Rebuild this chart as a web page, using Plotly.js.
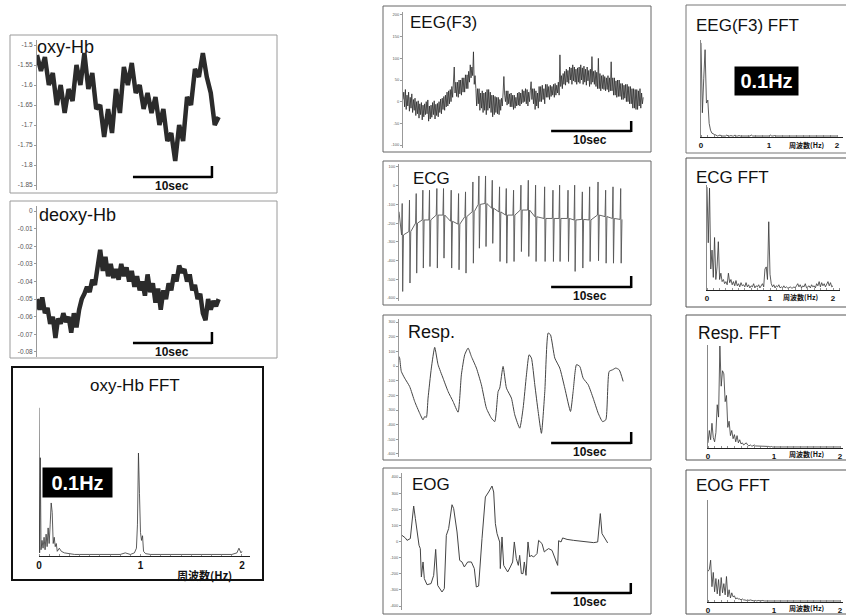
<!DOCTYPE html>
<html><head><meta charset="utf-8">
<script src="https://cdn.plot.ly/plotly-3.0.1.min.js"></script>
<style>html,body{margin:0;padding:0;background:#fff}#chart{width:846px;height:615px}</style>
</head><body><div id="chart"></div>
<script>
// ---------------- DATA ----------------
// oxy-Hb, samples every 0.5 s
const oxyHb = [-1.525,-1.565,-1.53,-1.60,-1.57,-1.65,-1.60,-1.67,-1.61,-1.64,-1.55,-1.60,-1.52,-1.61,-1.57,-1.66,-1.65,-1.73,-1.66,-1.72,-1.61,-1.67,-1.555,-1.60,-1.545,-1.62,-1.60,-1.66,-1.62,-1.67,-1.63,-1.70,-1.66,-1.74,-1.72,-1.79,-1.70,-1.74,-1.63,-1.65,-1.56,-1.58,-1.52,-1.58,-1.62,-1.70,-1.68];
const oxyTicks = [-1.5,-1.55,-1.6,-1.65,-1.7,-1.75,-1.8,-1.85];
const oxyTickText = ['-1.5','-1.55','-1.6','-1.65','-1.7','-1.75','-1.8','-1.85'];
// deoxy-Hb, samples every 1/3 s
const deoxyHb = [-0.050,-0.056,-0.049,-0.058,-0.055,-0.064,-0.060,-0.072,-0.061,-0.064,
 -0.058,-0.063,-0.060,-0.069,-0.058,-0.066,-0.056,-0.050,-0.047,-0.043,
 -0.046,-0.039,-0.042,-0.033,-0.022,-0.034,-0.026,-0.037,-0.030,-0.038,
 -0.033,-0.039,-0.030,-0.037,-0.032,-0.040,-0.034,-0.043,-0.037,-0.045,
 -0.040,-0.048,-0.036,-0.046,-0.041,-0.052,-0.044,-0.056,-0.045,-0.050,
 -0.041,-0.045,-0.036,-0.040,-0.031,-0.035,-0.033,-0.040,-0.036,-0.045,
 -0.042,-0.050,-0.047,-0.058,-0.062,-0.050,-0.056,-0.051,-0.054,-0.050];
const deoxyTicks = [0,-0.01,-0.02,-0.03,-0.04,-0.05,-0.06,-0.07,-0.08];
const deoxyTickText = ['0','-0.01','-0.02','-0.03','-0.04','-0.05','-0.06','-0.07','-0.08'];
// oxy-Hb FFT
const oxyFftF = [0,0.006,0.013,0.02,0.03,0.04,0.05,0.06,0.07,0.08,0.09,0.10,0.11,0.12,0.13,0.14,0.15,0.16,0.17,0.18,0.20,0.22,0.25,0.30,0.35,0.40,0.50,0.60,0.70,0.80,0.85,0.90,0.94,0.96,0.97,0.98,0.99,1.00,1.01,1.02,1.03,1.05,1.10,1.20,1.30,1.40,1.50,1.60,1.70,1.80,1.90,1.95,1.97,1.99,2.00];
const oxyFftP = [95,2,63,4,10,5,12,4,14,6,18,8,20,34,28,8,12,6,8,3,5,3,2,1.5,1,1,1,1,1,1,2,1,2,5,20,66,40,15,10,13,3,1.5,1,1,1,1,1,1,1,1,1,2,5,2,3];
// EEG(F3), samples every 0.1 s
const eeg = [
 5,22,-12,28,-18,15,-10,22,-22,10,-15,18,-25,5,-20,8,-32,0,-28,2,
 -38,-5,-30,-2,-42,-8,-35,-5,-30,0,-28,4,-45,-10,-40,-8,-36,-2,-30,2,
 -40,-6,-32,-4,-35,0,-25,6,-28,8,-18,12,-20,15,-12,22,-10,25,-5,28,
 0,35,10,40,80,20,45,12,45,10,50,18,50,15,55,22,55,22,62,30,
 62,30,70,45,85,55,80,60,115,40,60,30,-10,30,-5,30,-20,20,-15,25,
 -25,20,-20,22,-30,28,-20,28,-15,22,-25,15,-35,15,-30,12,-25,10,-28,10,
 -30,5,-20,8,-10,20,58,15,0,25,-8,25,-5,18,-12,20,-12,15,-18,15,
 -15,10,-10,20,-8,22,-10,20,-5,28,-2,25,0,30,-5,28,-10,22,0,25,
 46,5,30,-5,30,-18,25,-10,20,-15,35,0,35,0,38,5,30,-5,40,10,
 40,10,35,5,38,12,35,15,40,10,42,15,38,20,45,15,108,35,60,30,
 65,40,70,38,75,45,72,42,80,50,78,40,85,48,80,45,75,40,78,45,
 80,42,85,50,78,40,82,45,75,38,80,48,72,35,75,40,104,45,70,40,
 72,35,68,30,100,30,65,25,60,30,62,28,58,25,55,28,60,22,55,25,
 92,25,55,15,55,15,48,10,50,12,50,12,42,5,42,5,38,8,40,0,
 40,0,35,-5,35,-5,30,-15,30,-15,28,-18,28,-18,25,-10,30,-15,20,-5,
 10];
const eegTicks = [200,150,100,50,0,-50,-100];
// ECG beats: time (s), R peak, S trough, baseline
const ecgStartV = -139;
const ecgBeatT = [0.42,1.33,2.17,3.0,3.83,4.75,5.58,6.54,7.46,8.33,9.25,10.0,10.83,11.67,12.58,13.42,14.33,15.25,16.17,17.08,18.21,19.25,20.08,21.13,21.96,22.92,23.83,24.88,25.83,26.75,27.71];
const ecgR = [-95,-77,-42,-24,-24,-15,-15,-24,-42,-33,20,52,52,29,-6,-15,-24,3,29,3,-6,-24,3,-24,3,-33,-6,20,-24,-6,-15];
const ecgS = [-565,-520,-467,-440,-432,-440,-387,-440,-449,-467,-414,-334,-325,-308,-405,-414,-405,-352,-378,-405,-405,-405,-405,-405,-458,-440,-405,-401,-414,-414,-414];
const ecgBase = [-263,-245,-200,-183,-183,-157,-157,-190,-205,-165,-139,-100,-95,-120,-140,-157,-157,-130,-130,-166,-175,-175,-175,-175,-183,-180,-183,-157,-165,-175,-180];
const ecgTicks = [100,0,-100,-200,-300,-400,-500,-600];
// Respiration
const respT = [0,0.08,0.29,0.71,1.33,1.96,2.58,3.0,3.21,3.42,3.63,4.04,4.46,4.88,5.5,6.13,6.75,7.38,7.79,8.21,8.63,9.04,9.67,10.29,10.92,11.54,11.96,12.38,12.58,13.0,13.42,14.04,14.46,15.08,15.5,15.92,16.25,16.54,16.96,17.38,17.79,18.21,18.63,18.92,19.46,20.08,20.71,21.42,21.75,22.17,22.58,23.0,23.63,24.25,24.88,25.42,25.83,26.25,26.67,27.08,27.5,28.0];
const respV = [65,54,-37,-83,-140,-242,-322,-367,-345,-350,-219,-14,127,9,-83,-174,-242,-315,-60,77,122,65,-14,-128,-288,-356,-379,-174,-151,-3,-151,-219,-333,-424,-288,-60,77,54,-128,-310,-459,-174,225,213,54,-14,-151,-310,-174,9,-3,-83,-128,-219,-322,-379,-367,-37,-26,-14,-26,-105];
const respTicks = [300,200,100,0,-100,-200,-300,-400,-500,-600];
// EOG
const eogT = [0,0.42,0.63,1.04,1.25,1.46,1.67,1.96,2.13,2.29,2.42,2.63,2.79,3.13,3.63,3.96,4.21,4.46,4.79,5.0,5.29,5.54,5.83,6.25,6.46,6.88,7.21,7.5,7.79,8.21,8.67,9.04,9.29,9.58,10.0,10.42,10.83,11.25,11.46,11.67,11.88,12.21,12.29,12.5,12.71,13.0,13.21,13.54,13.83,14.04,14.29,14.54,14.71,14.92,15.13,15.29,15.5,15.75,15.96,16.13,16.46,16.88,17.08,17.5,17.79,18.0,18.33,18.75,18.96,19.17,19.46,19.58,19.88,20.08,20.63,21.46,22.29,23.13,23.96,24.46,24.79,25.0,25.42,25.71];
const eogV = [38,22,7,18,121,220,142,49,-24,-44,-220,-127,-230,-268,-261,-210,-49,-272,-303,-313,-292,38,80,228,204,59,-117,-127,-158,-127,-127,-168,-282,-276,18,276,307,344,307,111,49,-3,-168,28,-148,-168,-189,-158,-127,-3,-106,-148,-86,-199,-199,-127,-210,-3,-96,-86,-96,-75,7,-13,-65,-55,-44,-55,-86,-106,-148,5,-3,22,13,7,3,-3,-7,-3,173,49,13,-9];
const eogTicks = [400,300,200,100,0,-100,-200,-300,-400];
// Right-column spectra, every 0.02 Hz from 0 to 2 Hz
const eegFft = [97,25,60,90,35,38,14,7,4,3,2.5,
 2,1,1.5,2,1,1,1.5,1,2,1, 1,1.5,1,1,2,1,1,1.5,1,1, 1,1,1.5,1,1,1,2,1,1,1, 1.5,1,1,1,1,1.5,1,1,1,1,
 2,1,1,1.5,1,1,1,1,1,1.5, 1,1,1,1,1,1,1.5,1,1,1, 1,1,1,1.5,1,1,1,1,1,1, 1,1.5,1,1,1,1,1,1,1.5,1, 1,1,1,1,1,1,1,1.5,1,1];
const ecgFft = [98,45,97,20,38,12,50,10,22,46,10,16,8,10,6,8,5,16,7,10,
 5,8,4,9,4,6,3,7,4,5,3,7,3,5,2,4,3,6,2,4,
 3,5,2,4,6,3,20,22,10,65,15,6,3,5,2,4,3,5,2,3,
 2,4,2,3,2,2,3,2,2,3,2,4,6,3,5,2,4,3,6,2,
 3,4,2,5,3,4,2,6,4,8,3,7,4,6,3,5,8,4,7,3,4];
const respFft = [5,17,8,24,10,6,15,42,30,99,60,75,72,45,51,20,26,12,17,9,13,6,12,5,8,4,5,3,4,5,
 3,2,3,2,2,3,2,2,2,1.5, 2,1.5,2,1.5,1.5,2,1.5,1,1.5,1, 1,1.5,1,1,1,1.5,1,1,1,1, 1,1,1,1,1.5,1,1,1,1,1,
 1,1,1,1,1,1,1,1,1,1, 1,1,1,1,1,1,1,1,1,1, 1,1,1,1,1,1,1,1,1,1, 1];
const eogFft = [30,32,41,15,29,10,23,8,22,6,24,9,18,7,25,5,12,4,9,5,6,3,4,3,3,
 2,3,2,2,1.5,2,1.5,2,1.5,1.5, 1,1.5,1,1.5,1,1,1.5,1,1,1, 1,1,1,1,1,1,1.5,1,1,1, 1,1,1,1,1,1,1,1,1,1,
 1,1,1,1,1,1,1,1,1,1, 1,1,1,1,1,1,1,1,1,1, 1,1,1,1,1,1,1,1,1,1, 1,1,1,1,1,1];
const fftTicks = [0,1,2];
const fftTickText = ['0','1','2'];
const scaleBarLen = 10; // seconds

// ---------------- LAYOUT HELPERS ----------------
const W = 846, H = 615;
const FONT = 'Liberation Sans, Arial, Helvetica, sans-serif';
const CJK = 'Noto Sans CJK JP, sans-serif';
const X = p => p / W, Y = p => 1 - p / H;
const xd = (a, b) => [a / W, b / W];
const yd = (t, b) => [1 - b / H, 1 - t / H];

// build ECG polyline from the beats
const ecgT = [0], ecgV = [ecgStartV];
ecgBeatT.forEach((t, i) => {
  ecgT.push(t - 0.1, t - 0.02, t + 0.04, t + 0.14);
  ecgV.push(ecgBase[i], ecgR[i], ecgS[i], ecgBase[i]);
});

const traces = [
  {y: oxyHb, x0: 0, dx: 0.5, xaxis: 'x', yaxis: 'y', line: {color: '#2b2b2b', width: 4.5}},
  {y: deoxyHb, x0: 0, dx: 1/3, xaxis: 'x2', yaxis: 'y2', line: {color: '#2b2b2b', width: 4.5}},
  {x: oxyFftF, y: oxyFftP, xaxis: 'x3', yaxis: 'y3', line: {color: '#333', width: 0.8}},
  {y: eeg, x0: 0, dx: 0.1, xaxis: 'x4', yaxis: 'y4', line: {color: '#2a2a2a', width: 0.8}},
  {x: ecgT, y: ecgV, xaxis: 'x5', yaxis: 'y5', line: {color: '#555', width: 0.9}},
  {x: respT, y: respV, xaxis: 'x6', yaxis: 'y6', line: {color: '#444', width: 1, shape: 'spline', smoothing: 0.5}},
  {x: eogT, y: eogV, xaxis: 'x7', yaxis: 'y7', line: {color: '#444', width: 1}},
  {y: eegFft, x0: 0, dx: 0.02, xaxis: 'x8', yaxis: 'y8', line: {color: '#333', width: 0.8}},
  {y: ecgFft, x0: 0, dx: 0.02, xaxis: 'x9', yaxis: 'y9', line: {color: '#333', width: 0.8}},
  {y: respFft, x0: 0, dx: 0.02, xaxis: 'x10', yaxis: 'y10', line: {color: '#333', width: 0.8}},
  {y: eogFft, x0: 0, dx: 0.02, xaxis: 'x11', yaxis: 'y11', line: {color: '#333', width: 0.8}}
].map(t => Object.assign({type: 'scatter', mode: 'lines', hoverinfo: 'skip', showlegend: false}, t));

const layout = {
  width: W, height: H, margin: {l: 0, r: 0, t: 0, b: 0},
  paper_bgcolor: '#fff', plot_bgcolor: 'rgba(0,0,0,0)', showlegend: false,
  font: {family: FONT, color: '#111'}, shapes: [], annotations: []
};
const key = (p, n) => p + (n === 1 ? '' : n);

function timePanel(n, xdom, xr, ydom, yr, tv, tt, fs) {
  layout[key('xaxis', n)] = {domain: xdom, range: xr, visible: false, anchor: key('y', n), fixedrange: true};
  layout[key('yaxis', n)] = {domain: ydom, range: yr, anchor: key('x', n), showline: true, linecolor: '#999', linewidth: 1,
    ticks: 'outside', ticklen: 2, tickwidth: 1, tickcolor: '#999', tickmode: 'array', tickvals: tv, ticktext: tt,
    tickfont: {size: fs, color: '#555', family: FONT}, showgrid: false, zeroline: false, fixedrange: true};
}
function fftPanel(n, xdom, xr, ydom, fs, showY) {
  layout[key('xaxis', n)] = {domain: xdom, range: xr, anchor: key('y', n), showline: true, linecolor: '#222', linewidth: 1,
    ticks: '', tickmode: 'array', tickvals: fftTicks, ticktext: fftTickText,
    tickfont: {size: fs, family: FONT, weight: 'bold', color: '#111'}, showgrid: false, zeroline: false, fixedrange: true,
    minor: {ticks: 'inside', ticklen: 2, dtick: 0.1, tick0: 0, tickcolor: '#777', tickwidth: 0.8, showgrid: false}};
  layout[key('yaxis', n)] = {domain: ydom, range: [0, 100], anchor: key('x', n), showline: showY, linecolor: '#888', linewidth: 1,
    showticklabels: false, ticks: '', showgrid: false, zeroline: false, fixedrange: true};
}

timePanel(1, xd(37, 270), [0, 29.5], yd(40, 190), [-1.8625, -1.4875], oxyTicks, oxyTickText, 6.5);
timePanel(2, xd(37, 270), [0, 29.5], yd(206, 357), [-0.08284, 0.00284], deoxyTicks, deoxyTickText, 6.5);
fftPanel(3, xd(39, 250), [0, 2.079], yd(400, 556), 10, false);
timePanel(4, xd(403, 648), [0, 30.6], yd(12, 148), [-106.9, 206.9], eegTicks, eegTicks.map(String), 4);
timePanel(5, xd(399, 648), [0, 31.1], yd(164, 301), [-616, 116], ecgTicks, ecgTicks.map(String), 4);
timePanel(6, xd(399, 648), [0, 31.1], yd(319, 457), [-620.5, 320.5], respTicks, respTicks.map(String), 4);
timePanel(7, xd(402, 648), [0, 30.75], yd(473, 610), [-424.8, 424.8], eogTicks, eogTicks.map(String), 4);
fftPanel(8, xd(701, 843), [0, 2.088], yd(40, 137), 8, true);
fftPanel(9, xd(707, 840), [0, 2.111], yd(185, 290), 8, true);
fftPanel(10, xd(708, 843), [0, 2.045], yd(345, 448), 8, true);
fftPanel(11, xd(708, 843), [0, 2.045], yd(500, 602), 8, true);

// panel frames
function frame(x0, y0, x1, y1, color, w) {
  layout.shapes.push({type: 'rect', xref: 'paper', yref: 'paper', x0: X(x0), x1: X(x1), y0: Y(y1), y1: Y(y0),
    line: {color: color, width: w}, fillcolor: 'rgba(0,0,0,0)', layer: 'below'});
}
frame(10, 35, 277, 193, '#9a9a9a', 1);
frame(10, 201, 277, 358, '#9a9a9a', 1);
frame(12, 367, 263, 580, '#111', 2);
frame(383, 6, 651, 152, '#666', 1);
frame(383, 161, 651, 305, '#666', 1);
frame(383, 315, 651, 460, '#666', 1);
frame(383, 468, 651, 614, '#666', 1);
frame(686, 5, 852, 153, '#777', 1);
frame(686, 158, 852, 307, '#555', 1);
frame(686, 315, 852, 460, '#555', 1);
frame(686, 470, 852, 614, '#555', 1);

// 10-second scale bars
function scaleBar(n, start, yBar, yTop, labelX, labelY) {
  const xr = key('x', n);
  layout.shapes.push({type: 'line', xref: xr, yref: 'paper', x0: start, x1: start + scaleBarLen, y0: Y(yBar), y1: Y(yBar), line: {color: '#000', width: 2.5}});
  layout.shapes.push({type: 'line', xref: xr, yref: 'paper', x0: start + scaleBarLen, x1: start + scaleBarLen, y0: Y(yBar + 1), y1: Y(yTop), line: {color: '#000', width: 2.5}});
  layout.annotations.push({xref: 'paper', yref: 'paper', x: X(labelX), y: Y(labelY), text: '<b>10sec</b>', showarrow: false,
    xanchor: 'center', yanchor: 'middle', font: {size: 12, family: FONT, color: '#111'}});
}
scaleBar(1, 12.15, 177, 166, 172, 186);
scaleBar(2, 12.15, 343, 332, 172, 352);
scaleBar(4, 18.5, 131, 121, 590, 140);
scaleBar(5, 19, 287, 276, 590, 296);
scaleBar(6, 19, 443, 432, 590, 452);
scaleBar(7, 18.6, 593, 583, 590, 602);

// titles
function title(text, x, y, size, anchor) {
  layout.annotations.push({xref: 'paper', yref: 'paper', x: X(x), y: Y(y), text: text, showarrow: false,
    xanchor: anchor || 'left', yanchor: 'middle', font: {size: size, family: FONT, color: '#111'}});
}
title('oxy-Hb', 35, 47, 18);
title('deoxy-Hb', 37, 215, 18);
title('oxy-Hb FFT', 135, 385, 17, 'center');
title('EEG(F3)', 408, 23, 17);
title('ECG', 411, 178, 17);
title('Resp.', 406, 332, 18);
title('EOG', 410, 484, 17);
title('EEG(F3) FFT', 694, 25, 17);
title('ECG FFT', 694, 177, 17);
title('Resp. FFT', 696, 333, 17.5);
title('EOG FFT', 694, 485, 17);

// 0.1Hz highlight boxes
function hzBox(cx, cy, w, h) {
  layout.annotations.push({xref: 'paper', yref: 'paper', x: X(cx), y: Y(cy), text: '<b>0.1Hz</b>', showarrow: false,
    xanchor: 'center', yanchor: 'middle', bgcolor: '#000', width: w, height: h, borderpad: 0,
    font: {size: 20, family: FONT, color: '#fff'}});
}
hzBox(77.5, 482.5, 69, 29);
hzBox(766.5, 81, 63, 28);

// frequency axis labels
function freqLabel(x, y, size) {
  layout.annotations.push({xref: 'paper', yref: 'paper', x: X(x), y: Y(y), text: '<b>周波数(Hz)</b>', showarrow: false,
    xanchor: 'left', yanchor: 'middle', font: {size: size, family: CJK, color: '#111'}});
}
freqLabel(175, 575, 11);
freqLabel(787, 145, 7);
freqLabel(781, 297, 7);
freqLabel(787, 454, 7);
freqLabel(787, 608, 7);

Plotly.newPlot('chart', traces, layout, {displayModeBar: false, staticPlot: true});
</script>
</body></html>
